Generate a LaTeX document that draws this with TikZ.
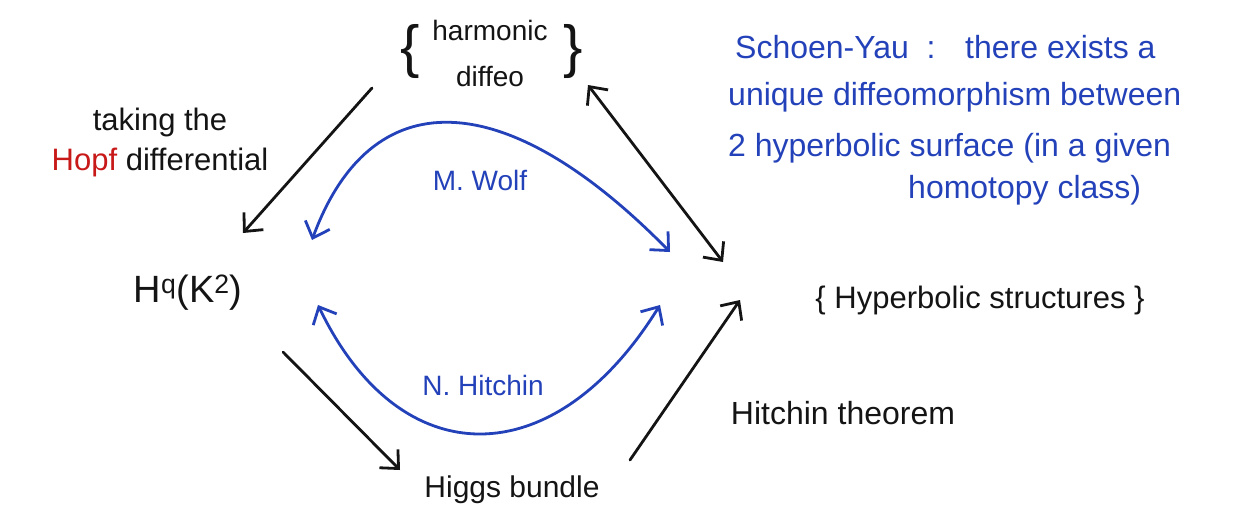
\documentclass[tikz,border=0pt]{standalone}
\usepackage{fontspec}
\setmainfont{Liberation Sans}
\usetikzlibrary{arrows.meta}
\definecolor{ink}{RGB}{20,20,20}
\definecolor{pen}{RGB}{35,65,185}
\definecolor{hopf}{RGB}{200,25,25}
\tikzset{
  lbl/.style={font=\fontsize{30}{40}\selectfont, text=ink, inner sep=2pt},
  bluelbl/.style={font=\fontsize{32}{36}\selectfont, text=pen, inner sep=0pt, anchor=west},
  wlbl/.style={font=\fontsize{28}{32}\selectfont, text=pen, inner sep=1pt},
  arr/.style={draw=ink, line width=2.8pt, line cap=round, -{Straight Barb[length=14pt,width=26pt,line width=2.8pt]}},
  darr/.style={draw=ink, line width=2.8pt, line cap=round, {Straight Barb[length=14pt,width=26pt,line width=2.8pt]}-{Straight Barb[length=14pt,width=26pt,line width=2.8pt]}},
  barr/.style={draw=pen, line width=2.8pt, line cap=round, {Straight Barb[length=14pt,width=26pt,line width=2.8pt]}-{Straight Barb[length=14pt,width=26pt,line width=2.8pt]}}
}
\begin{document}
\begin{tikzpicture}[x=1pt,y=-1pt]
\path[use as bounding box] (0,0) rectangle (1260,525);
% main nodes
\node[lbl, font=\fontsize{38}{40}\selectfont] (H) at (188,293) {H\textsuperscript{q}(K\textsuperscript{2})};
\node[lbl, font=\fontsize{58}{58}\selectfont, inner sep=0pt] (lb) at (410,52) {\{};
\node[lbl, font=\fontsize{28}{30}\selectfont, inner sep=0pt] (harm) at (490,30) {harmonic};
\node[lbl, font=\fontsize{28}{30}\selectfont, inner sep=0pt] (diff) at (490,76) {diffeo};
\node[lbl, font=\fontsize{58}{58}\selectfont, inner sep=0pt] (rb) at (573,52) {\}};
\node[lbl, font=\fontsize{31}{40}\selectfont] (hyp) at (980,300) {\{ Hyperbolic structures \}};
\node[lbl] (higgs) at (512,490) {Higgs bundle};
\node[lbl, align=center, font=\fontsize{31}{40}\selectfont] (take) at (160,142) {taking the\\\textcolor{hopf}{Hopf} differential};
\node[lbl, font=\fontsize{32}{40}\selectfont] (hth) at (843,413) {Hitchin theorem};
\node[wlbl] (wolf) at (480,180) {M. Wolf};
\node[wlbl] (hitch) at (483,385) {N. Hitchin};
% Schoen-Yau text
\node[bluelbl] (sy1) at (735,47) {Schoen-Yau\; :\;\; there exists a};
\node[bluelbl] (sy2) at (728,97) {unique diffeomorphism between};
\node[bluelbl] (sy3) at (728,148) {2 hyperbolic surface (in a given};
\node[bluelbl] (sy4) at (908,190) {homotopy class)};
% arrow endpoints
\coordinate (a1s) at (372,88);
\coordinate (a1e) at (243,233);
\coordinate (a2s) at (588,85);
\coordinate (a2e) at (723,262);
\coordinate (a3s) at (283,352);
\coordinate (a3e) at (400,470);
\coordinate (a4s) at (630,460);
\coordinate (a4e) at (740,300);
\coordinate (b1s) at (312,240);
\coordinate (b1e) at (670,252);
\coordinate (b2s) at (318,305);
\coordinate (b2e) at (660,305);
% black arrows
\draw[arr] (a1s) -- (a1e);
\draw[darr] (a2s) -- (a2e);
\draw[arr] (a3s) -- (a3e);
\draw[arr] (a4s) -- (a4e);
% blue curves
\draw[barr] (b1s) .. controls (370,82) and (503,82) .. (b1e);
\draw[barr] (b2s) .. controls (400,476) and (554,476) .. (b2e);
\end{tikzpicture}
\end{document}
